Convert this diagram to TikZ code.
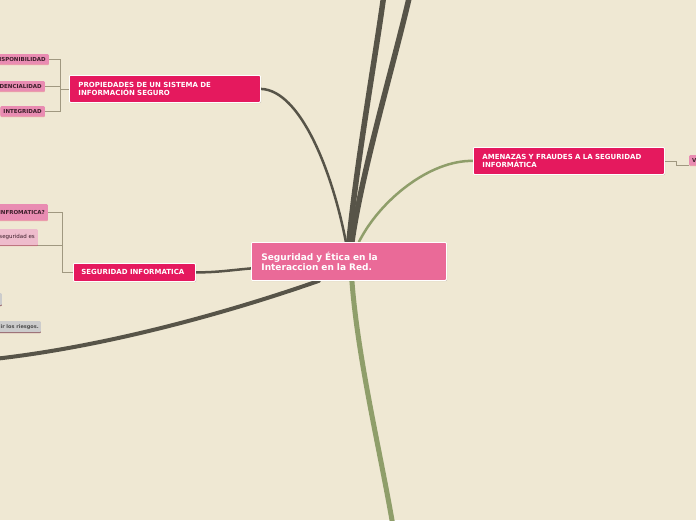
\documentclass[tikz,border=0pt]{standalone}
\usepackage{fontspec}
\setmainfont{DejaVu Sans}
\usetikzlibrary{positioning, shadows, backgrounds}
\definecolor{paper}{RGB}{239,232,211}
\definecolor{rose}{RGB}{234,106,152}
\definecolor{crimson}{RGB}{229,25,94}
\definecolor{petal}{RGB}{233,140,178}
\definecolor{blush}{RGB}{238,188,204}
\definecolor{ash}{RGB}{204,204,204}
\definecolor{bark}{RGB}{87,84,72}
\definecolor{moss}{RGB}{143,158,106}
\definecolor{twigline}{RGB}{160,152,128}
\definecolor{ink}{RGB}{60,30,42}

\begin{document}
\begin{tikzpicture}[x=1pt, y=-1pt,
	main/.style = {draw=white, line width=0.8pt, rectangle, rounded corners=1pt, text=white, align=left, anchor=north west,
		drop shadow={shadow xshift=0.8pt, shadow yshift=-0.8pt, opacity=0.3}},
	topic/.style = {main, fill=crimson, font=\bfseries\fontsize{7}{8.5}\selectfont, text width=173pt, inner xsep=9pt, minimum height=27pt},
	leaf/.style = {rectangle, rounded corners=1pt, fill=petal, text=ink, inner xsep=3pt, inner ysep=0pt, minimum height=10pt,
		font=\bfseries\fontsize{5.5}{6}\selectfont, anchor=north east,
		drop shadow={shadow xshift=0pt, shadow yshift=-1pt, fill=crimson, opacity=0.35}},
	pale/.style = {leaf, fill=blush, font=\fontsize{5.5}{6}\selectfont},
	grey/.style = {leaf, fill=ash, text=black!70, font=\bfseries\fontsize{5}{6}\selectfont,
		drop shadow={shadow xshift=0pt, shadow yshift=-1pt, fill=black, opacity=0.35}},
	branch/.style = {line cap=round},
	twig/.style = {draw=twigline, line width=0.7pt}]
	\useasboundingbox (0,0) rectangle (696,520);

	% main ideas
	\node[main, fill=rose, font=\bfseries\fontsize{9}{10.7}\selectfont, text width=175pt, inner xsep=10pt, minimum height=38pt] (1) at (251,242) {Seguridad y Ética en la\\Interaccion en la Red.};
	\node[topic] (2) at (69,75) {PROPIEDADES DE UN SISTEMA DE\\INFORMACIÓN SEGURO};
	\node[topic, text width=106pt, inner xsep=8pt, minimum height=18pt] (3) at (73,263) {SEGURIDAD INFORMATICA};
	\node[topic] (4) at (473,147) {AMENAZAS Y FRAUDES A LA SEGURIDAD\\INFORMÁTICA};

	% leaves
	\node[leaf] (5) at (49,54) {DISPONIBILIDAD};
	\node[leaf] (6) at (45,81) {CONFIDENCIALIDAD};
	\node[leaf] (7) at (45,106) {INTEGRIDAD};
	\node[leaf, minimum height=16pt] (8) at (48,204) {INFROMATICA?};
	\node[pale, minimum height=16pt] (9) at (38,229) {seguridad es};
	\node[grey, minimum height=12pt, minimum width=20pt] (10) at (2,293) {};
	\node[grey, minimum height=11pt, inner xsep=2pt] (11) at (41,321) {ir los riesgos.};
	\node[leaf, anchor=north west] (12) at (689,155) {V};

	\coordinate[left=9pt of 2.west] (j1);
	\coordinate[left=11pt of 3.west] (j2);
	\coordinate[right=12pt of 4.east] (j3);
	\coordinate (t1) at (384,-6);
	\coordinate (t2) at (410,-6);
	\coordinate (t3) at (-6,359);
	\coordinate (t4) at (393,526);

	\begin{scope}[on background layer]
		\fill[paper] (0,0) rectangle (696,520);
	\end{scope}
	\begin{scope}[on background layer]
		\draw[branch, bark, line width=5.5pt] ([xshift=0pt]1.north) .. controls (357,160) and (375,60) .. (t1);
		\draw[branch, bark, line width=5.5pt] ([xshift=3pt]1.north) .. controls (362,170) and (395,60) .. (t2);
		\draw[branch, bark, line width=2.5pt] (2.east) .. controls (300,90) and (332,170) .. ([xshift=-3pt]1.north);
		\draw[branch, moss, line width=2.5pt] (4.west) .. controls (430,160) and (380,200) .. ([xshift=10pt]1.north);
		\draw[branch, bark, line width=2.5pt] (3.east) to[out=0, in=185] ([yshift=-7pt]1.west);
		\draw[branch, bark, line width=4pt] ([xshift=-30pt]1.south) .. controls (250,305) and (120,345) .. (t3);
		\draw[branch, moss, line width=5pt] ([xshift=3pt]1.south) .. controls (358,360) and (380,450) .. (t4);

		\draw[twig] (2.west) -- (j1);
		\draw[twig] (j1) |- (5.east);
		\draw[twig] (j1) |- (6.east);
		\draw[twig] (j1) |- (7.east);
		\draw[twig] (3.west) -- (j2);
		\draw[twig] (j2) |- (8.east);
		\draw[twig] (j2) |- (9.south west);
		\draw[twig] (4.east) -- (j3) |- (12.south west);
	\end{scope}
\end{tikzpicture}
\end{document}
